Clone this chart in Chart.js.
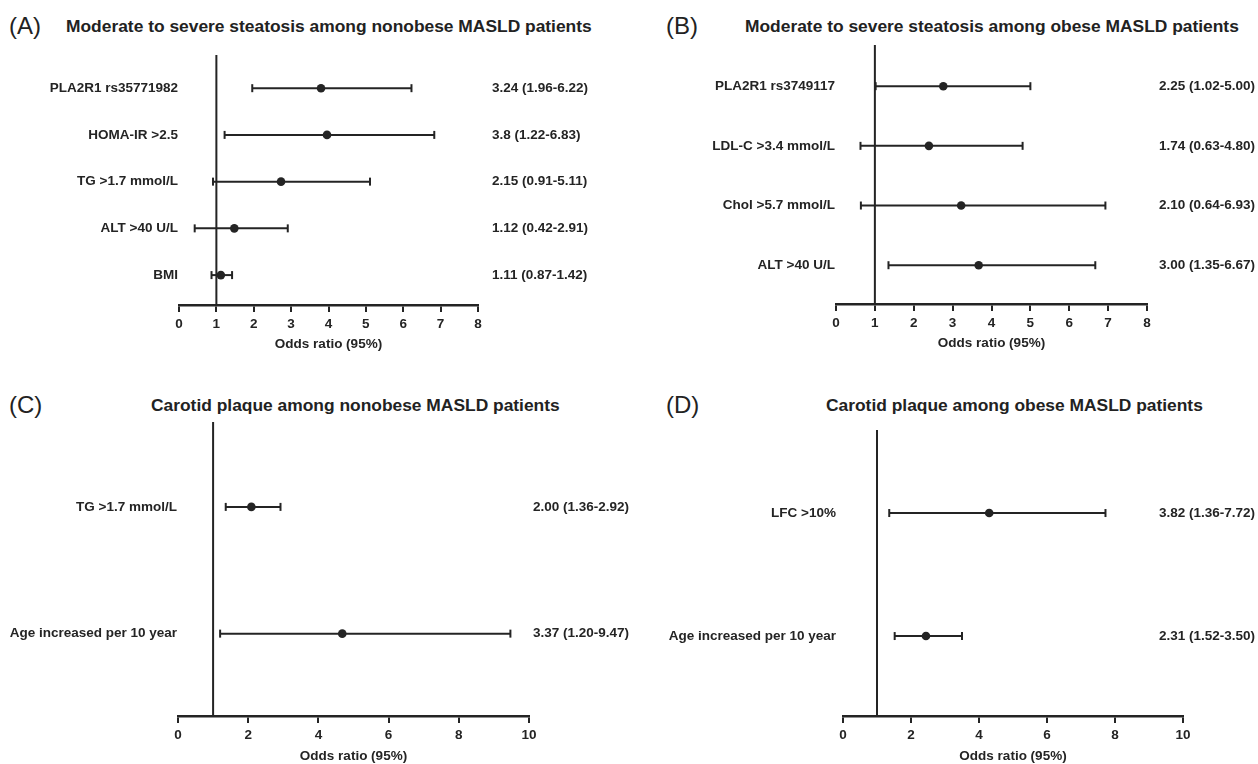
<!DOCTYPE html>
<html>
<head>
<meta charset="utf-8">
<script src="https://cdn.jsdelivr.net/npm/chart.js@4.4.1/dist/chart.umd.min.js"></script>
<style>
  body { margin: 0; background: #fff; }
  #wrap { position: relative; width: 1258px; height: 764px; font-family: 'Liberation Sans', Arial, sans-serif; color: #222; }
  .panel { position: absolute; width: 629px; height: 382px; }
  .panel canvas { position: absolute; left: 0; top: 0; }
  .tag { position: absolute; font-size: 24px; line-height: 24px; }
  .ttl { position: absolute; font-size: 17.4px; font-weight: bold; line-height: 20px; white-space: nowrap; }
</style>
</head>
<body>
<div id="wrap">
  <div class="panel" style="left:0;top:0">
    <div class="tag" style="left:9px;top:14px">(A)</div>
    <div class="ttl" style="left:66px;top:16px">Moderate to severe steatosis among nonobese MASLD patients</div>
    <canvas id="chartA" width="629" height="382"></canvas>
  </div>
  <div class="panel" style="left:629px;top:0">
    <div class="tag" style="left:37px;top:14px">(B)</div>
    <div class="ttl" style="left:116px;top:16px">Moderate to severe steatosis among obese MASLD patients</div>
    <canvas id="chartB" width="629" height="382"></canvas>
  </div>
  <div class="panel" style="left:0;top:382px">
    <div class="tag" style="left:9px;top:11px">(C)</div>
    <div class="ttl" style="left:151px;top:13px">Carotid plaque among nonobese MASLD patients</div>
    <canvas id="chartC" width="629" height="382"></canvas>
  </div>
  <div class="panel" style="left:629px;top:382px">
    <div class="tag" style="left:37px;top:11px">(D)</div>
    <div class="ttl" style="left:197px;top:13px">Carotid plaque among obese MASLD patients</div>
    <canvas id="chartD" width="629" height="382"></canvas>
  </div>
</div>
<script>
// (A) moderate to severe steatosis, nonobese
const catsA = ['PLA2R1 rs35771982', 'HOMA-IR >2.5', 'TG >1.7 mmol/L', 'ALT >40 U/L', 'BMI'];
const pointsA = [3.80, 3.96, 2.73, 1.48, 1.12];
const lowA = [1.96, 1.22, 0.91, 0.42, 0.87];
const highA = [6.22, 6.83, 5.11, 2.91, 1.42];
const textA = ['3.24 (1.96-6.22)', '3.8 (1.22-6.83)', '2.15 (0.91-5.11)', '1.12 (0.42-2.91)', '1.11 (0.87-1.42)'];

// (B) moderate to severe steatosis, obese
const catsB = ['PLA2R1 rs3749117', 'LDL-C >3.4 mmol/L', 'Chol >5.7 mmol/L', 'ALT >40 U/L'];
const pointsB = [2.76, 2.39, 3.22, 3.67];
const lowB = [1.02, 0.63, 0.64, 1.35];
const highB = [5.00, 4.80, 6.93, 6.67];
const textB = ['2.25 (1.02-5.00)', '1.74 (0.63-4.80)', '2.10 (0.64-6.93)', '3.00 (1.35-6.67)'];

// (C) carotid plaque, nonobese
const catsC = ['TG >1.7 mmol/L', 'Age increased per 10 year'];
const pointsC = [2.09, 4.68];
const lowC = [1.36, 1.20];
const highC = [2.92, 9.47];
const textC = ['2.00 (1.36-2.92)', '3.37 (1.20-9.47)'];

// (D) carotid plaque, obese
const catsD = ['LFC >10%', 'Age increased per 10 year'];
const pointsD = [4.30, 2.44];
const lowD = [1.36, 1.52];
const highD = [7.72, 3.50];
const textD = ['3.82 (1.36-7.72)', '2.31 (1.52-3.50)'];

const INK = '#242424';
const FONT = "'Liberation Sans', Arial, sans-serif";

// right hand OR text, placed on the row pixels of the y scale
const valueText = {
  id: 'valueText',
  afterDatasetsDraw(chart, args, opts) {
    const ctx = chart.ctx;
    const y = chart.scales.y;
    ctx.save();
    ctx.font = 'bold 13.5px ' + FONT;
    ctx.fillStyle = INK;
    ctx.textAlign = 'left';
    ctx.textBaseline = 'middle';
    opts.texts.forEach((t, i) => ctx.fillText(t, opts.x, y.getPixelForValue(i)));
    ctx.restore();
  }
};

function forest(id, cats, pts, lows, highs, texts, o) {
  const datasets = [{
    data: [{ x: 1, y: o.yMin }, { x: 1, y: o.yMax }],
    showLine: true,
    borderColor: INK,
    borderWidth: 2,
    pointRadius: 0
  }];
  cats.forEach((c, i) => {
    datasets.push({
      data: [{ x: lows[i], y: i }, { x: highs[i], y: i }],
      showLine: true,
      borderColor: INK,
      borderWidth: 2,
      pointStyle: 'line',
      rotation: 90,
      pointRadius: 4,
      pointBorderWidth: 2,
      pointBorderColor: INK
    });
  });
  datasets.push({
    data: pts.map((v, i) => ({ x: v, y: i })),
    pointRadius: 4.3,
    pointBackgroundColor: INK,
    pointBorderColor: INK,
    pointBorderWidth: 0
  });

  new Chart(document.getElementById(id), {
    type: 'scatter',
    data: { datasets },
    plugins: [valueText],
    options: {
      responsive: false,
      animation: false,
      layout: { padding: { top: o.top, left: 0, right: 629 - o.right, bottom: 382 - o.axisY - o.xH } },
      plugins: {
        legend: { display: false },
        tooltip: { enabled: false },
        valueText: { texts, x: o.textX }
      },
      scales: {
        x: {
          type: 'linear',
          min: 0,
          max: o.xMax,
          afterFit: (s) => { s.height = o.xH; },
          ticks: { stepSize: o.xStep, color: INK, font: { family: FONT, size: 13.5, weight: 'bold' }, padding: 4 },
          grid: { drawOnChartArea: false, drawTicks: true, tickLength: 7, color: INK, lineWidth: 2 },
          border: { display: true, color: INK, width: 2.5 },
          title: {
            display: true,
            text: 'Odds ratio (95%)',
            color: INK,
            font: { family: FONT, size: 13.5, weight: 'bold' },
            padding: { top: 0, bottom: o.titlePad }
          }
        },
        y: {
          type: 'linear',
          reverse: true,
          min: o.yMin,
          max: o.yMax,
          afterFit: (s) => { s.width = o.left; },
          afterBuildTicks: (s) => { s.ticks = cats.map((c, i) => ({ value: i })); },
          ticks: {
            color: INK,
            font: { family: FONT, size: 13.5, weight: 'bold' },
            padding: o.labelGap,
            callback: (v) => cats[v]
          },
          grid: { display: false, drawTicks: false },
          border: { display: false }
        }
      }
    }
  });
}

forest('chartA', catsA, pointsA, lowA, highA, textA,
  { xMax: 8, xStep: 1, yMin: -0.71, yMax: 4.64, left: 179, right: 478, top: 55, axisY: 305, xH: 50, titlePad: 3, labelGap: 1, textX: 492 });
forest('chartB', catsB, pointsB, lowB, highB, textB,
  { xMax: 8, xStep: 1, yMin: -0.69, yMax: 3.65, left: 207, right: 518, top: 45, axisY: 304, xH: 50, titlePad: 3, labelGap: 1, textX: 530 });
forest('chartC', catsC, pointsC, lowC, highC, textC,
  { xMax: 10, xStep: 2, yMin: -0.67, yMax: 1.65, left: 178, right: 529, top: 40, axisY: 334, xH: 48, titlePad: 0, labelGap: 1, textX: 533 });
forest('chartD', catsD, pointsD, lowD, highD, textD,
  { xMax: 10, xStep: 2, yMin: -0.675, yMax: 1.65, left: 214, right: 554, top: 48, axisY: 334, xH: 48, titlePad: 0, labelGap: 7, textX: 530 });
</script>
</body>
</html>
